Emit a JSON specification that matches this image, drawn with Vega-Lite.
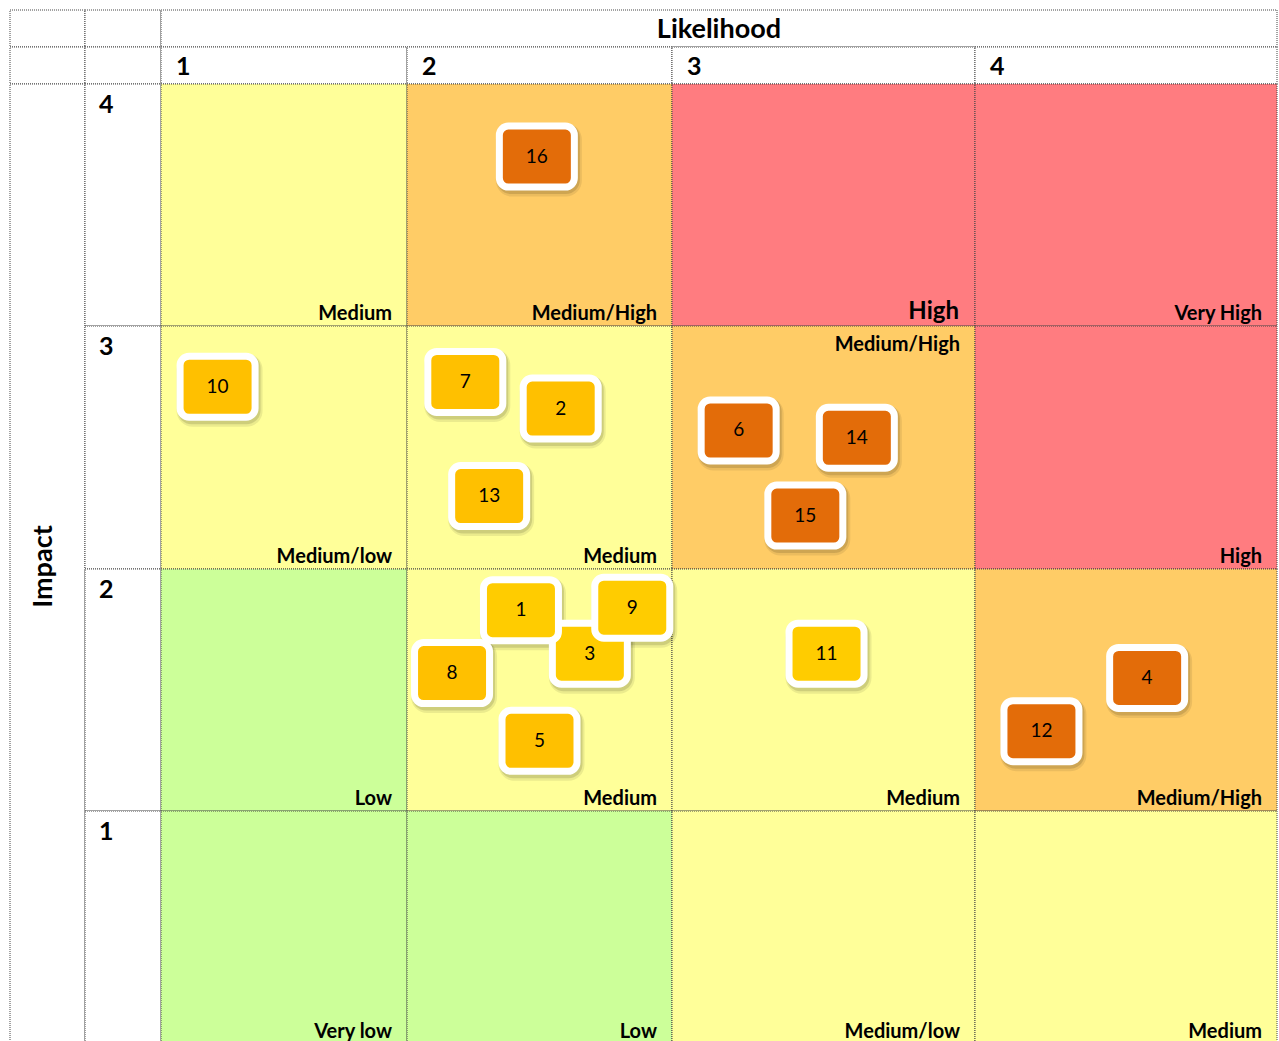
{
  "$schema": "https://vega.github.io/schema/vega-lite/v6.json",
  "width": 1279,
  "height": 1041,
  "autosize": {"type": "none"},
  "padding": 0,
  "background": "#ffffff",
  "config": {"view": {"stroke": null}, "text": {"font": "Lato"}},
  "datasets": {
    "cells": [
      {"l0": -1.5, "l1": -0.5, "i0": 5.5, "i1": 6.5, "zone": "none", "label": "", "L": 0, "I": 0},
      {"l0": -0.5, "l1": 0.5, "i0": 5.5, "i1": 6.5, "zone": "none", "label": "", "L": 0, "I": 0},
      {"l0": 0.5, "l1": 4.5, "i0": 5.5, "i1": 6.5, "zone": "none", "label": "", "L": 0, "I": 0},
      {"l0": -1.5, "l1": -0.5, "i0": 4.5, "i1": 5.5, "zone": "none", "label": "", "L": 0, "I": 0},
      {"l0": -0.5, "l1": 0.5, "i0": 4.5, "i1": 5.5, "zone": "none", "label": "", "L": 0, "I": 0},
      {"l0": 0.5, "l1": 1.5, "i0": 4.5, "i1": 5.5, "zone": "none", "label": "", "L": 0, "I": 0},
      {"l0": 1.5, "l1": 2.5, "i0": 4.5, "i1": 5.5, "zone": "none", "label": "", "L": 0, "I": 0},
      {"l0": 2.5, "l1": 3.5, "i0": 4.5, "i1": 5.5, "zone": "none", "label": "", "L": 0, "I": 0},
      {"l0": 3.5, "l1": 4.5, "i0": 4.5, "i1": 5.5, "zone": "none", "label": "", "L": 0, "I": 0},
      {"l0": -1.5, "l1": -0.5, "i0": 0.5, "i1": 4.5, "zone": "none", "label": "", "L": 0, "I": 0},
      {"l0": -0.5, "l1": 0.5, "i0": 3.5, "i1": 4.5, "zone": "none", "label": "", "L": 0, "I": 0},
      {"l0": -0.5, "l1": 0.5, "i0": 2.5, "i1": 3.5, "zone": "none", "label": "", "L": 0, "I": 0},
      {"l0": -0.5, "l1": 0.5, "i0": 1.5, "i1": 2.5, "zone": "none", "label": "", "L": 0, "I": 0},
      {"l0": -0.5, "l1": 0.5, "i0": 0.5, "i1": 1.5, "zone": "none", "label": "", "L": 0, "I": 0},
      {"l0": 0.5, "l1": 1.5, "i0": 3.5, "i1": 4.5, "zone": "medium", "label": "Medium", "L": 1, "I": 4},
      {"l0": 1.5, "l1": 2.5, "i0": 3.5, "i1": 4.5, "zone": "mediumhigh", "label": "Medium/High", "L": 2, "I": 4},
      {"l0": 2.5, "l1": 3.5, "i0": 3.5, "i1": 4.5, "zone": "high", "label": "High", "L": 3, "I": 4},
      {"l0": 3.5, "l1": 4.5, "i0": 3.5, "i1": 4.5, "zone": "high", "label": "Very High", "L": 4, "I": 4},
      {"l0": 0.5, "l1": 1.5, "i0": 2.5, "i1": 3.5, "zone": "medium", "label": "Medium/low", "L": 1, "I": 3},
      {"l0": 1.5, "l1": 2.5, "i0": 2.5, "i1": 3.5, "zone": "medium", "label": "Medium", "L": 2, "I": 3},
      {"l0": 2.5, "l1": 3.5, "i0": 2.5, "i1": 3.5, "zone": "mediumhigh", "label": "Medium/High", "L": 3, "I": 3},
      {"l0": 3.5, "l1": 4.5, "i0": 2.5, "i1": 3.5, "zone": "high", "label": "High", "L": 4, "I": 3},
      {"l0": 0.5, "l1": 1.5, "i0": 1.5, "i1": 2.5, "zone": "low", "label": "Low", "L": 1, "I": 2},
      {"l0": 1.5, "l1": 2.5, "i0": 1.5, "i1": 2.5, "zone": "medium", "label": "Medium", "L": 2, "I": 2},
      {"l0": 2.5, "l1": 3.5, "i0": 1.5, "i1": 2.5, "zone": "medium", "label": "Medium", "L": 3, "I": 2},
      {"l0": 3.5, "l1": 4.5, "i0": 1.5, "i1": 2.5, "zone": "mediumhigh", "label": "Medium/High", "L": 4, "I": 2},
      {"l0": 0.5, "l1": 1.5, "i0": 0.5, "i1": 1.5, "zone": "low", "label": "Very low", "L": 1, "I": 1},
      {"l0": 1.5, "l1": 2.5, "i0": 0.5, "i1": 1.5, "zone": "low", "label": "Low", "L": 2, "I": 1},
      {"l0": 2.5, "l1": 3.5, "i0": 0.5, "i1": 1.5, "zone": "medium", "label": "Medium/low", "L": 3, "I": 1},
      {"l0": 3.5, "l1": 4.5, "i0": 0.5, "i1": 1.5, "zone": "medium", "label": "Medium", "L": 4, "I": 1}
    ],
    "headers": [
      {"text": "1", "x": 0.5, "y": 5.0, "kind": "col"},
      {"text": "2", "x": 1.5, "y": 5.0, "kind": "col"},
      {"text": "3", "x": 2.5, "y": 5.0, "kind": "col"},
      {"text": "4", "x": 3.5, "y": 5.0, "kind": "col"},
      {"text": "4", "x": -0.5, "y": 4.5, "kind": "row"},
      {"text": "3", "x": -0.5, "y": 3.5, "kind": "row"},
      {"text": "2", "x": -0.5, "y": 2.5, "kind": "row"},
      {"text": "1", "x": -0.5, "y": 1.5, "kind": "row"},
      {"text": "Likelihood", "x": 2.655, "y": 6.0, "kind": "title"},
      {"text": "Impact", "x": -1.047, "y": 2.51, "kind": "impact"}
    ],
    "risks": [
      {"id": "16", "likelihood": 1.99, "impact": 4.2, "tone": "orange"},
      {"id": "10", "likelihood": 0.73, "impact": 3.25, "tone": "amber"},
      {"id": "7", "likelihood": 1.72, "impact": 3.27, "tone": "amber"},
      {"id": "2", "likelihood": 2.08, "impact": 3.16, "tone": "amber"},
      {"id": "13", "likelihood": 1.81, "impact": 2.8, "tone": "amber"},
      {"id": "6", "likelihood": 2.72, "impact": 3.07, "tone": "orange"},
      {"id": "14", "likelihood": 3.11, "impact": 3.04, "tone": "orange"},
      {"id": "15", "likelihood": 2.94, "impact": 2.72, "tone": "orange"},
      {"id": "3", "likelihood": 2.19, "impact": 2.15, "tone": "gold"},
      {"id": "1", "likelihood": 1.93, "impact": 2.33, "tone": "gold"},
      {"id": "9", "likelihood": 2.35, "impact": 2.34, "tone": "gold"},
      {"id": "8", "likelihood": 1.67, "impact": 2.07, "tone": "amber"},
      {"id": "5", "likelihood": 2.0, "impact": 1.79, "tone": "amber"},
      {"id": "11", "likelihood": 3.01, "impact": 2.15, "tone": "gold"},
      {"id": "4", "likelihood": 4.07, "impact": 2.05, "tone": "orange"},
      {"id": "12", "likelihood": 3.72, "impact": 1.83, "tone": "orange"}
    ]
  },
  "layer": [
    {
      "data": {"name": "cells"},
      "mark": {"type": "rect", "stroke": "#444444", "strokeWidth": 1, "strokeDash": [1, 1]},
      "encoding": {
        "x": {"field": "l0", "type": "quantitative", "axis": null, "scale": {"type": "linear", "domain": [-1.5, -0.5, 0.5, 1.5, 2.5, 3.5, 4.5], "range": [10, 85, 161, 407, 672, 975, 1277], "nice": false, "zero": false}},
        "x2": {"field": "l1"},
        "y": {"field": "i0", "type": "quantitative", "axis": null, "scale": {"type": "linear", "domain": [0.5, 1.5, 2.5, 3.5, 4.5, 5.5, 6.5], "range": [1044, 811, 569, 326, 84, 47, 10], "nice": false, "zero": false}},
        "y2": {"field": "i1"},
        "fill": {"field": "zone", "type": "nominal", "legend": null, "scale": {"domain": ["none", "low", "medium", "mediumhigh", "high"], "range": ["#ffffff", "#CCFF99", "#FFFF99", "#FFCC66", "#FF7C80"]}}
      }
    },
    {
      "data": {"name": "cells"},
      "transform": [{"filter": "datum.label != '' && !(datum.L == 3 && datum.I == 3) && !(datum.L == 3 && datum.I == 4)"}],
      "mark": {"type": "text", "align": "right", "baseline": "alphabetic", "dx": -15, "dy": -6, "fontSize": 20, "fontWeight": "bold", "color": "#000000"},
      "encoding": {
        "x": {"field": "l1", "type": "quantitative"},
        "y": {"field": "i0", "type": "quantitative"},
        "text": {"field": "label"}
      }
    },
    {
      "data": {"name": "cells"},
      "transform": [{"filter": "datum.L == 3 && datum.I == 3"}],
      "mark": {"type": "text", "align": "right", "baseline": "top", "dx": -15, "dy": 9, "fontSize": 20, "fontWeight": "bold", "color": "#000000"},
      "encoding": {
        "x": {"field": "l1", "type": "quantitative"},
        "y": {"field": "i1", "type": "quantitative"},
        "text": {"field": "label"}
      }
    },
    {
      "data": {"name": "cells"},
      "transform": [{"filter": "datum.L == 3 && datum.I == 4"}],
      "mark": {"type": "text", "align": "right", "baseline": "alphabetic", "dx": -16, "dy": -7, "fontSize": 24, "fontWeight": "bold", "color": "#000000"},
      "encoding": {
        "x": {"field": "l1", "type": "quantitative"},
        "y": {"field": "i0", "type": "quantitative"},
        "text": {"field": "label"}
      }
    },
    {
      "data": {"name": "headers"},
      "transform": [{"filter": "datum.kind == 'col'"}],
      "mark": {"type": "text", "align": "left", "baseline": "middle", "dx": 15, "dy": 1, "fontSize": 25, "fontWeight": "bold", "color": "#000000"},
      "encoding": {
        "x": {"field": "x", "type": "quantitative"},
        "y": {"field": "y", "type": "quantitative"},
        "text": {"field": "text"}
      }
    },
    {
      "data": {"name": "headers"},
      "transform": [{"filter": "datum.kind == 'row'"}],
      "mark": {"type": "text", "align": "left", "baseline": "middle", "dx": 14, "dy": 21, "fontSize": 25, "fontWeight": "bold", "color": "#000000"},
      "encoding": {
        "x": {"field": "x", "type": "quantitative"},
        "y": {"field": "y", "type": "quantitative"},
        "text": {"field": "text"}
      }
    },
    {
      "data": {"name": "headers"},
      "transform": [{"filter": "datum.kind == 'title'"}],
      "mark": {"type": "text", "align": "center", "baseline": "middle", "dy": 1, "fontSize": 27, "fontWeight": "bold", "color": "#000000"},
      "encoding": {
        "x": {"field": "x", "type": "quantitative"},
        "y": {"field": "y", "type": "quantitative"},
        "text": {"field": "text"}
      }
    },
    {
      "data": {"name": "headers"},
      "transform": [{"filter": "datum.kind == 'impact'"}],
      "mark": {"type": "text", "align": "center", "baseline": "middle", "angle": 270, "fontSize": 27, "fontWeight": "bold", "color": "#000000"},
      "encoding": {
        "x": {"field": "x", "type": "quantitative"},
        "y": {"field": "y", "type": "quantitative"},
        "text": {"field": "text"}
      }
    },
    {
      "data": {"name": "risks"},
      "mark": {"type": "rect", "color": "#000000", "opacity": 0.08, "cornerRadius": 16, "xOffset": -41, "x2Offset": 45, "yOffset": -33, "y2Offset": 40},
      "encoding": {
        "x": {"field": "likelihood", "type": "quantitative"},
        "x2": {"field": "likelihood"},
        "y": {"field": "impact", "type": "quantitative"},
        "y2": {"field": "impact"}
      }
    },
    {
      "data": {"name": "risks"},
      "mark": {"type": "rect", "color": "#000000", "opacity": 0.12, "cornerRadius": 14, "xOffset": -40, "x2Offset": 43, "yOffset": -33, "y2Offset": 37.5},
      "encoding": {
        "x": {"field": "likelihood", "type": "quantitative"},
        "x2": {"field": "likelihood"},
        "y": {"field": "impact", "type": "quantitative"},
        "y2": {"field": "impact"}
      }
    },
    {
      "data": {"name": "risks"},
      "mark": {"type": "rect", "stroke": "#ffffff", "strokeWidth": 7, "cornerRadius": 9, "xOffset": -37.5, "x2Offset": 37.5, "yOffset": -30.5, "y2Offset": 30.5},
      "encoding": {
        "x": {"field": "likelihood", "type": "quantitative"},
        "x2": {"field": "likelihood"},
        "y": {"field": "impact", "type": "quantitative"},
        "y2": {"field": "impact"},
        "color": {"field": "tone", "type": "nominal", "legend": null, "scale": {"domain": ["amber", "gold", "orange"], "range": ["#FFC000", "#FFCC00", "#E36C09"]}}
      }
    },
    {
      "data": {"name": "risks"},
      "mark": {"type": "text", "align": "center", "baseline": "middle", "fontSize": 19, "fontWeight": "normal", "color": "#000000"},
      "encoding": {
        "x": {"field": "likelihood", "type": "quantitative"},
        "y": {"field": "impact", "type": "quantitative"},
        "text": {"field": "id"}
      }
    }
  ]
}
